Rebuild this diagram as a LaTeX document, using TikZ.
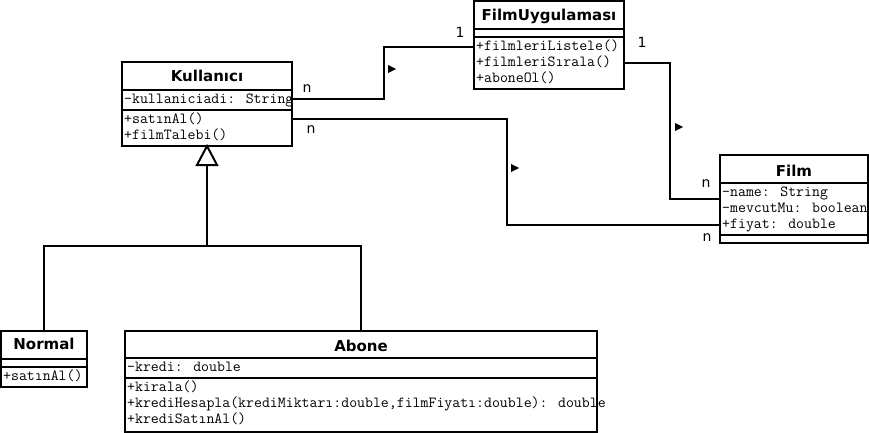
\documentclass[tikz,border=0pt]{standalone}
\usepackage{fontspec}
\newfontfamily\umlsans{DejaVu Sans}
\usepackage{tikz}

\begin{document}
\begin{tikzpicture}[x=1pt, y=-1pt,
		classbox/.style={draw, line width=2pt, inner sep=0pt, outer sep=0pt, anchor=north west},
		classname/.style={font=\umlsans\bfseries\fontsize{15}{17}\selectfont, anchor=base, inner sep=0pt},
		member/.style={font=\ttfamily\fontsize{15.4}{16}\selectfont, anchor=base west, inner sep=0pt},
		mult/.style={font=\umlsans\fontsize{14}{16}\selectfont, inner sep=0pt},
		umlline/.style={line width=2pt}]
			\useasboundingbox (0,0) rectangle (869,433);

			% classes
			\node[classbox, minimum width=170pt, minimum height=84pt] (kul) at (122,62) {};
			\node[classbox, minimum width=150pt, minimum height=88pt] (app) at (474,1) {};
			\node[classbox, minimum width=148pt, minimum height=88pt] (film) at (720,155) {};
			\node[classbox, minimum width=86pt, minimum height=56pt] (normal) at (1,331) {};
			\node[classbox, minimum width=472pt, minimum height=101pt] (abone) at (125,331) {};

			\node[classname] (kulname) at (207,81.5) {Kullanıcı};
			\node[classname] (appname) at (549,21) {FilmUygulaması};
			\node[classname] (filmname) at (794,176) {Film};
			\node[classname] (normalname) at (44,349) {Normal};
			\node[classname] (abonename) at (361,351) {Abone};

			\draw[umlline] (122,90) -- (292,90);
			\draw[umlline] (122,110) -- (292,110);
			\draw[umlline] (474,29) -- (624,29);
			\draw[umlline] (474,37) -- (624,37);
			\draw[umlline] (720,183) -- (868,183);
			\draw[umlline] (720,235) -- (868,235);
			\draw[umlline] (1,359) -- (87,359);
			\draw[umlline] (1,367) -- (87,367);
			\draw[umlline] (125,358) -- (597,358);
			\draw[umlline] (125,378) -- (597,378);

			% members
			\node[member] (kula1) at (124,103.5) {-kullaniciadi: String};
			\node[member] (kulm1) at (124,123.5) {+satınAl()};
			\node[member] (kulm2) at (124,139.5) {+filmTalebi()};

			\node[member] (appm1) at (476,50.5) {+filmleriListele()};
			\node[member] (appm2) at (476,66.5) {+filmleriSırala()};
			\node[member] (appm3) at (476,82.5) {+aboneOl()};

			\node[member] (filma1) at (722,196.5) {-name: String};
			\node[member] (filma2) at (722,212.5) {-mevcutMu: boolean};
			\node[member] (filma3) at (722,228.5) {+fiyat: double};

			\node[member] (normalm1) at (3,380.5) {+satınAl()};

			\node[member] (abonea1) at (127,371.5) {-kredi: double};
			\node[member] (abonem1) at (127,391.5) {+kirala()};
			\node[member] (abonem2) at (127,407.5) {+krediHesapla(krediMiktarı:double,filmFiyatı:double): double};
			\node[member] (abonem3) at (127,423.5) {+krediSatınAl()};

			% associations
			\coordinate (kulR1) at (292,99);
			\coordinate (kulR2) at (292,119);
			\coordinate (appL) at (474,47);
			\coordinate (appR) at (624,63);
			\coordinate (filmL1) at (720,199);
			\coordinate (filmL2) at (720,225);

			\draw[umlline] (kulR1) -- (384,99) |- (appL);
			\draw[umlline] (kulR2) -- (507,119) |- (filmL2);
			\draw[umlline] (appR) -- (670,63) |- (filmL1);

			\fill[color=black] (388,65) -- (396,69) -- (388,73) -- cycle;
			\fill[color=black] (511,164) -- (519,168) -- (511,172) -- cycle;
			\fill[color=black] (675,123) -- (683,127) -- (675,131) -- cycle;

			\node[mult] (m1) at (307,89) {n};
			\node[mult] (m2) at (460,32) {1};
			\node[mult] (m3) at (311,130) {n};
			\node[mult] (m4) at (642,42) {1};
			\node[mult] (m5) at (706,184) {n};
			\node[mult] (m6) at (707,238) {n};

			% generalization
			\coordinate (genbase) at (207,165);
			\coordinate (genjoin) at (207,246);
			\draw[umlline, fill=white] (kul.south) -- (217,165) -- (197,165) -- cycle;
			\draw[umlline] (genbase) -- (genjoin);
			\draw[umlline] (normal.north) |- (genjoin) -| (abone.north);
		\end{tikzpicture}
\end{document}
